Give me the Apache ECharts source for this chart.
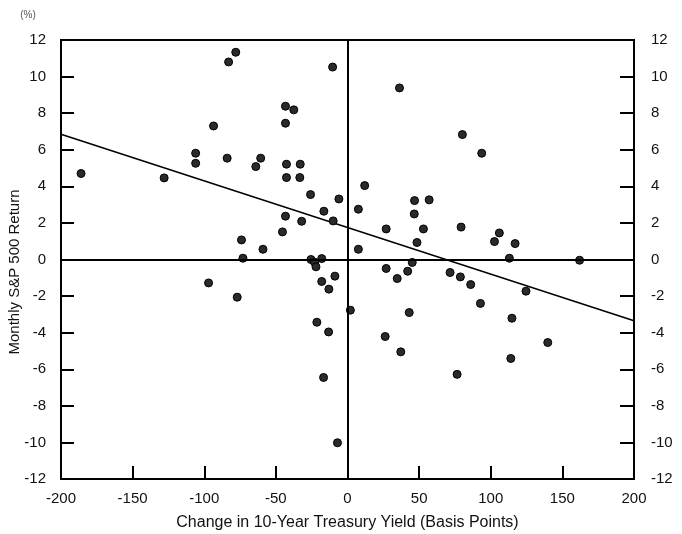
<!DOCTYPE html>
<html>
<head>
<meta charset="utf-8">
<script src="https://cdn.jsdelivr.net/npm/echarts@6/dist/echarts.min.js"></script>
<style>
html,body{margin:0;padding:0;background:#fff;}
#chart{width:682px;height:534px;}
</style>
</head>
<body>
<div id="chart"></div>
<script>
// Change in 10-year Treasury yield (basis points)
var yieldChange = [
  -186, -128, -106, -106, -93.5, -84, -83, -78, -74, -73,
  -64, -60.6, -59, -43.3, -37.5, -43.3, -42.6, -33, -42.6, -33.3,
  -25.8, -6, -43.3, -45.4, -32, -16.5, -10, -10.4, -25.5, -23,
  -22, -18, -97, -77, -8.8, -18, -13, 2, -21.4, -13.2,
  -16.7, -7, 36.3, 80.2, 93.7, 12, 7.6, 46.8, 57, 46.6,
  27, 53, 79.3, 48.5, 7.6, 106, 102.6, 117, 113, 162,
  45.2, 27, 34.7, 42, 71.6, 78.8, 86, 124.6, 92.8, 43.1,
  114.8, 26.3, 37.2, 139.8, 114, 76.5
];
// Monthly S&P 500 return (%)
var spReturn = [
  4.70, 4.46, 5.81, 5.26, 7.30, 5.54, 10.80, 11.33, 1.07, 0.07,
  5.08, 5.54, 0.56, 8.38, 8.18, 7.45, 5.21, 5.21, 4.48, 4.48,
  3.55, 3.31, 2.37, 1.51, 2.09, 2.64, 2.11, 10.52, 0.0, -0.15,
  -0.4, 0.05, -1.28, -2.06, -0.91, -1.20, -1.62, -2.77, -3.43, -3.96,
  -6.45, -10.02, 9.38, 6.83, 5.81, 4.04, 2.75, 3.22, 3.26, 2.49,
  1.67, 1.67, 1.77, 0.93, 0.56, 1.45, 0.98, 0.87, 0.07, -0.04,
  -0.16, -0.49, -1.04, -0.64, -0.71, -0.95, -1.37, -1.73, -2.40, -2.90,
  -3.21, -4.21, -5.05, -4.54, -5.41, -6.28
];
// Regression line end points [x, y]
var regX = [-200, 200];
var regY = [6.85, -3.35];

var xTitle = 'Change in 10-Year Treasury Yield (Basis Points)';
var yTitle = 'Monthly S&P 500 Return';
var unitLabel = '(%)';

var points = yieldChange.map(function (x, i) { return [x, spReturn[i]]; });
var regLine = regX.map(function (x, i) { return [x, regY[i]]; });

var FONT = '"Liberation Sans", Arial, Helvetica, sans-serif';
var chart = echarts.init(document.getElementById('chart'), null, {renderer: 'canvas'});

function makeY(pos, margin, tickLen) {
  return {
    type: 'value', min: -12, max: 12, interval: 2, position: pos, offset: 0,
    axisLine: {show: true, onZero: false, lineStyle: {color: '#000', width: 2}},
    axisTick: {show: true, inside: true, length: tickLen, lineStyle: {color: '#000', width: 2}},
    splitLine: {show: false},
    axisLabel: {show: true, color: '#111', fontSize: 15, fontFamily: FONT, margin: margin}
  };
}

chart.setOption({
  animation: false,
  backgroundColor: '#fff',
  grid: {left: 61, right: 48, top: 40, bottom: 55, containLabel: false, outerBoundsMode: 'none',
         show: true, borderColor: '#000', borderWidth: 2, backgroundColor: 'transparent'},
  xAxis: {
    type: 'value', min: -200, max: 200, interval: 50,
    name: xTitle, nameLocation: 'middle', nameGap: 36,
    nameTextStyle: {color: '#111', fontSize: 16, fontFamily: FONT},
    axisLine: {show: true, onZero: false, lineStyle: {color: '#000', width: 2}},
    axisTick: {show: true, inside: true, length: 13, lineStyle: {color: '#000', width: 2}},
    splitLine: {show: false},
    axisLabel: {color: '#111', fontSize: 15, fontFamily: FONT, margin: 12}
  },
  yAxis: [makeY('left', 15, 13), makeY('right', 17, 14)],
  graphic: [
    {type: 'text', x: 15, y: 272, rotation: Math.PI / 2,
     style: {text: yTitle, fill: '#111', font: '15px ' + FONT, textAlign: 'center', textVerticalAlign: 'middle'}},
    {type: 'text', x: 28, y: 15,
     style: {text: unitLabel, fill: '#555', font: '10px ' + FONT, textAlign: 'center', textVerticalAlign: 'middle'}}
  ],
  series: [
    {
      type: 'line', data: regLine, symbol: 'none', silent: true,
      lineStyle: {color: '#000', width: 1.5}, z: 3,
      markLine: {
        silent: true, symbol: 'none', label: {show: false},
        lineStyle: {color: '#000', width: 2, type: 'solid'},
        data: [{xAxis: 0}, {yAxis: 0}]
      }
    },
    {
      type: 'scatter', data: points, symbol: 'circle', symbolSize: 8,
      itemStyle: {color: '#2a2a2a', borderColor: '#000', borderWidth: 1, opacity: 1}, z: 4
    }
  ]
});
</script>
</body>
</html>
